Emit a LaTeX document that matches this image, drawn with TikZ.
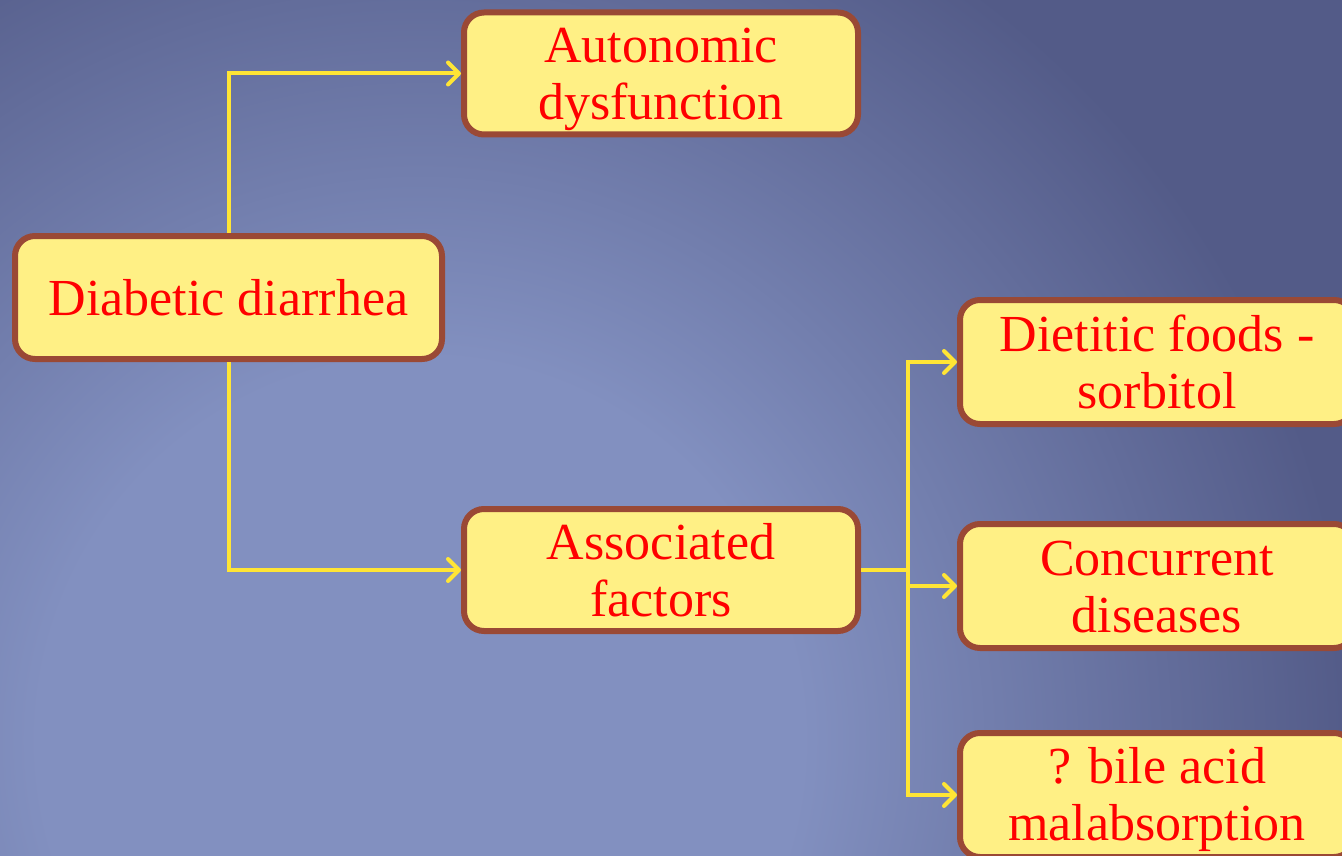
\documentclass[tikz,border=0pt]{standalone}
\usepackage{fontspec}
\setmainfont{Liberation Serif}
\usetikzlibrary{arrows.meta}
\definecolor{bgin}{HTML}{8290C0}
\definecolor{bgout}{HTML}{535B88}
\definecolor{boxfill}{HTML}{FFF085}
\definecolor{boxdraw}{HTML}{9A4935}
\definecolor{txtred}{HTML}{FF0000}
\definecolor{linky}{HTML}{FFE535}
\newcommand\mystrut{\rule[-10pt]{0pt}{56pt}}
\pgfdeclareradialshading{bgshade}{\pgfpoint{0bp}{0bp}}{%
  color(0bp)=(bgin); color(380bp)=(bgin); color(930bp)=(bgout); color(1800bp)=(bgout)}
\tikzset{
  box/.style={draw=boxdraw, line width=6pt, fill=boxfill, rounded corners=20pt,
    minimum width=394pt, minimum height=122pt, align=center, text=txtred,
    font=\fontsize{52}{57}\selectfont, inner sep=0pt},
  rbox/.style={box, minimum height=124pt},
  link/.style={draw=linky, line width=4pt},
  arr/.style={link, -{Straight Barb[length=11pt,width=22pt,line width=4pt,round]}}
}
\begin{document}
\begin{tikzpicture}[x=1pt,y=-1pt]
\useasboundingbox (0,0) rectangle (1342,856);
\clip (0,0) rectangle (1342,856);
\fill[bgout] (0,0) rectangle (1342,856);
\node[inner sep=0pt, outer sep=0pt] (bg) at (420,740) {\pgfuseshading{bgshade}};
\node[box, minimum width=427pt, minimum height=123pt] (dd) at (228.5,297.5) {Diabetic diarrhea\mystrut};
\node[box] (ad) at (661,73.5) {Autonomic\mystrut\\dysfunction\mystrut};
\node[box] (af) at (661,570) {Associated\mystrut\\factors\mystrut};
\node[rbox] (df) at (1157,362) {Dietitic foods -\mystrut\\sorbitol\mystrut};
\node[rbox] (cd) at (1157,586) {Concurrent\mystrut\\diseases\mystrut};
\node[rbox] (ba) at (1157,795) {? bile acid\mystrut\\malabsorption\mystrut};
\coordinate (j) at (908,570);
\draw[arr] (dd.north) |- (ad.west);
\draw[arr] (dd.south) |- (af.west);
\draw[link] (af.east) -- (j);
\draw[arr] (j) |- (df.west);
\draw[arr] (j) |- (cd.west);
\draw[arr] (j) |- (ba.west);
\end{tikzpicture}
\end{document}
